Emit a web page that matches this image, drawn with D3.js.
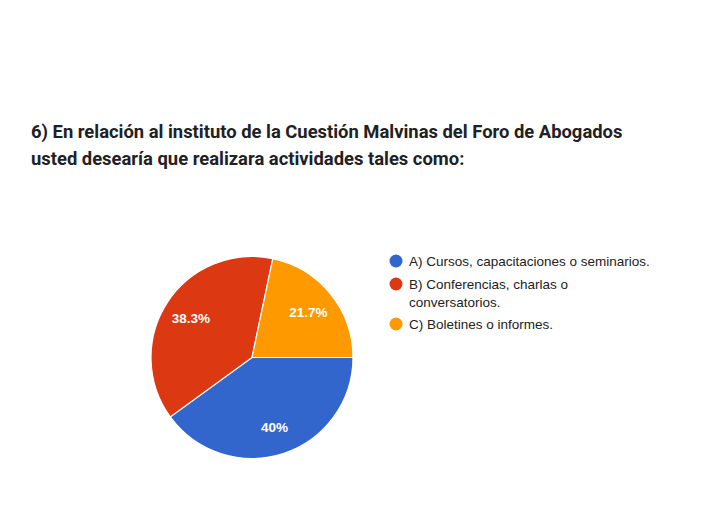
<!DOCTYPE html>
<html><head><meta charset="utf-8">
<script src="https://cdn.jsdelivr.net/npm/d3@7"></script>
<style>body{margin:0;background:#fff}</style>
</head><body>
<svg id="c" width="702" height="523"></svg>
<script>
const titleLines = ["6) En relación al instituto de la Cuestión Malvinas del Foro de Abogados",
                    "usted desearía que realizara actividades tales como:"];
const categories = ["A) Cursos, capacitaciones o seminarios.",
                    "B) Conferencias, charlas o conversatorios.",
                    "C) Boletines o informes."];
const legendLines = [["A) Cursos, capacitaciones o seminarios."],
                     ["B) Conferencias, charlas o", "conversatorios."],
                     ["C) Boletines o informes."]];
const values = [40, 38.3, 21.7];
const valueLabels = ["40%", "38.3%", "21.7%"];
const colors = ["#3366cc", "#dc3912", "#ff9900"];

const svg = d3.select("#c");
svg.append("rect").attr("width",702).attr("height",523).attr("fill","#fff");

const t = svg.append("text").attr("font-family","Roboto, sans-serif").attr("font-weight","bold")
  .attr("font-size",18.4).attr("fill","#202124");
titleLines.forEach((l,i)=>t.append("tspan").attr("x",31).attr("y",138+i*27).text(l));

const cx = 252, cy = 357.5, r = 101;
const pie = d3.pie().value(d=>d).sort(null).startAngle(Math.PI/2).endAngle(Math.PI/2+2*Math.PI);
const arcs = pie(values);
const arc = d3.arc().innerRadius(0).outerRadius(r);
const labelArc = d3.arc().innerRadius(r*0.72).outerRadius(r*0.72);
const g = svg.append("g").attr("transform",`translate(${cx},${cy})`);
g.selectAll("path").data(arcs).join("path").attr("d",arc)
  .attr("fill",(d,i)=>colors[i]).attr("stroke","#fff").attr("stroke-width",1.2);
g.selectAll("text").data(arcs).join("text")
  .attr("transform",d=>`translate(${labelArc.centroid(d)})`)
  .attr("text-anchor","middle").attr("dy","0.36em")
  .attr("font-family","Liberation Sans, Arial, sans-serif").attr("font-weight","bold")
  .attr("font-size",13.5).attr("fill","#fff")
  .text((d,i)=>valueLabels[i]);

const lg = svg.append("g").attr("font-family","Liberation Sans, Arial, sans-serif").attr("font-size",13.5).attr("fill","#222");
const itemY = [261, 284, 324];
legendLines.forEach((lines,i)=>{
  lg.append("circle").attr("cx",396).attr("cy",itemY[i]).attr("r",6.5).attr("fill",colors[i]);
  lines.forEach((l,j)=>lg.append("text").attr("x",409).attr("y",itemY[i]+4.8+j*18.5).text(l));
});
</script>
</body></html>
